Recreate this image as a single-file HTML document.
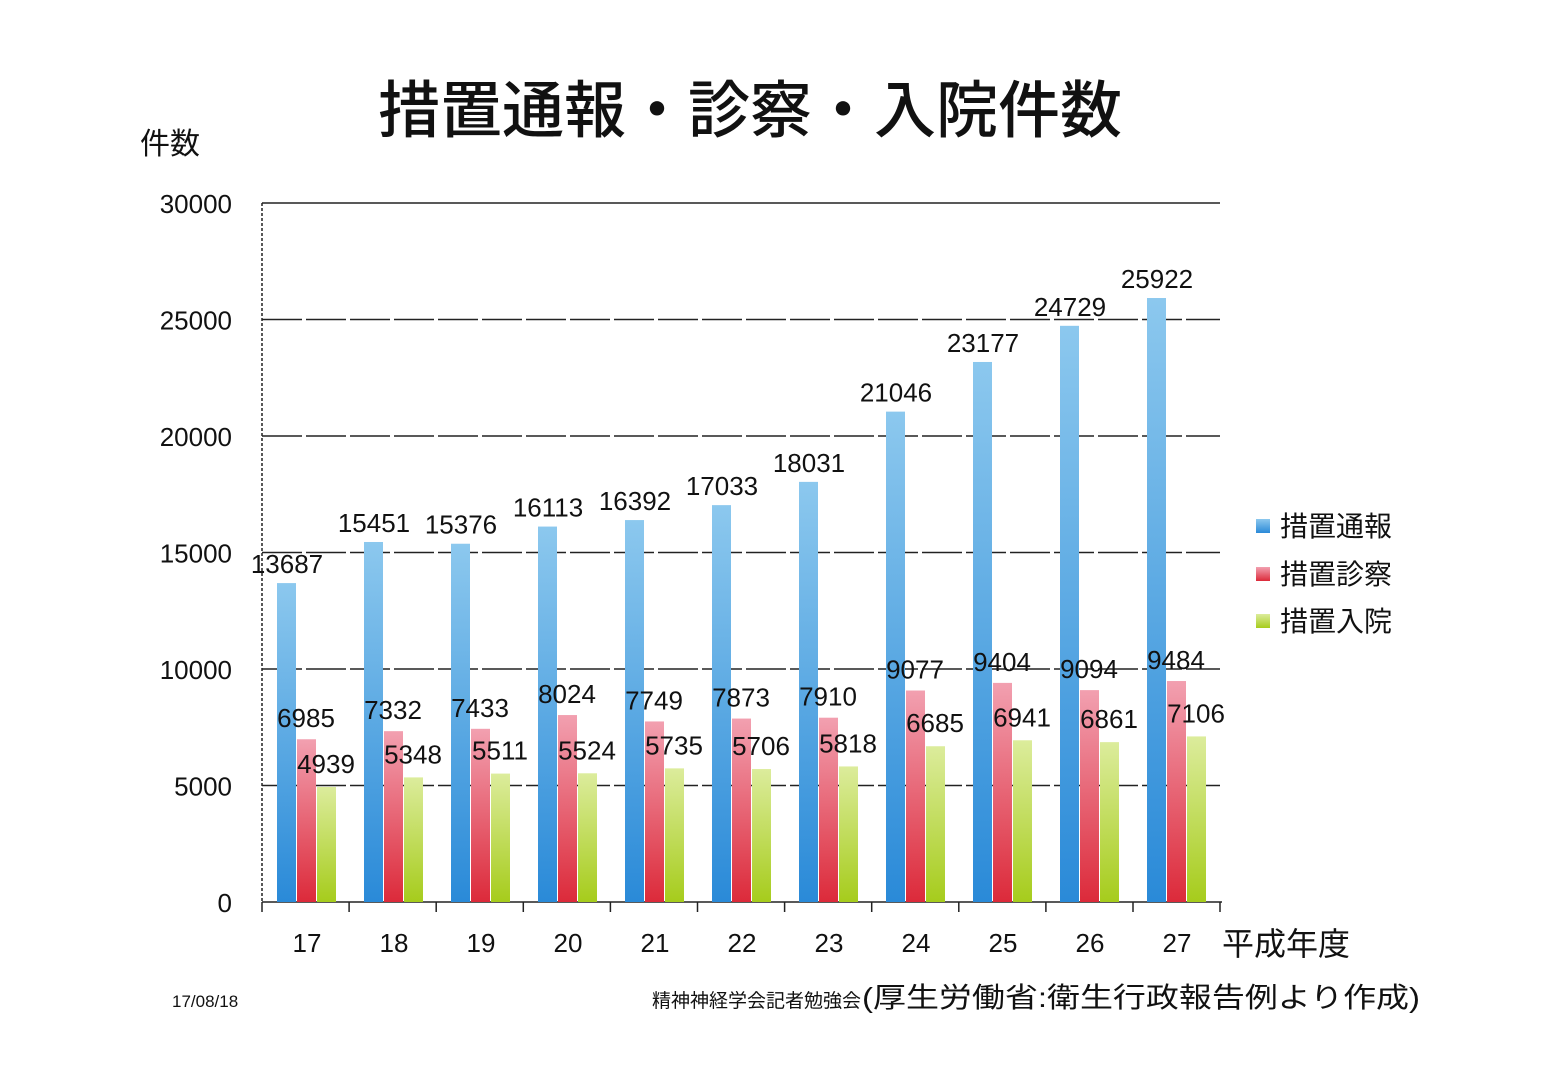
<!DOCTYPE html>
<html><head><meta charset="utf-8">
<style>
html,body{margin:0;padding:0;background:#fff;}
svg{display:block;}
text{font-family:"Liberation Sans","Noto Sans CJK JP",sans-serif;fill:#111;}
</style></head>
<body>
<svg id="c" width="1563" height="1084" viewBox="0 0 1563 1084" xmlns="http://www.w3.org/2000/svg">
<defs>
<linearGradient id="gb" x1="0" y1="0" x2="0" y2="1"><stop offset="0" stop-color="#8cc8ee"/><stop offset="1" stop-color="#2a8ad8"/></linearGradient>
<linearGradient id="gr" x1="0" y1="0" x2="0" y2="1"><stop offset="0" stop-color="#f2a0b0"/><stop offset="1" stop-color="#dc2a3a"/></linearGradient>
<linearGradient id="gg" x1="0" y1="0" x2="0" y2="1"><stop offset="0" stop-color="#dcec9c"/><stop offset="1" stop-color="#a6cc1c"/></linearGradient>
</defs>
<text x="750" y="132" font-size="62" text-anchor="middle" font-weight="500">措置通報・診察・入院件数</text>
<text x="140" y="154" font-size="30">件数</text>
<g id="grid"></g>
<g id="bars"></g>
<text x="1280" y="536" font-size="28">措置通報</text>
<text x="1280" y="584" font-size="28">措置診察</text>
<text x="1280" y="631" font-size="28">措置入院</text>
<rect x="1256" y="519" width="14" height="14" fill="url(#gb)"/>
<rect x="1256" y="567" width="14" height="14" fill="url(#gr)"/>
<rect x="1256" y="614" width="14" height="14" fill="url(#gg)"/>
<text x="1222" y="955" font-size="32">平成年度</text>
<text x="172" y="1007" font-size="17">17/08/18</text>
<text x="652" y="1007" font-size="19">精神神経学会記者勉強会</text>
<text x="862" y="1007" font-size="28" textLength="558" lengthAdjust="spacingAndGlyphs">(厚生労働省:衛生行政報告例より作成)</text>
</svg>
<script>
var ns="http://www.w3.org/2000/svg";
function el(p,t,a,txt){var e=document.createElementNS(ns,t);for(var k in a)e.setAttribute(k,a[k]);if(txt!=null)e.textContent=txt;p.appendChild(e);return e;}
var g=document.getElementById('grid'),b=document.getElementById('bars');
function Y(v){return 902-v*699/30000;}
for(var i=0;i<=6;i++){var v=i*5000,y=Y(v);
 if(i>0)el(g,'line',{x1:262,x2:1220,y1:y,y2:y,stroke:'#222','stroke-width':1.5,'stroke-dasharray':i==6?'':'40 4'});
 el(g,'text',{x:232,y:y+10,'font-size':26,'text-anchor':'end'},String(v));}
el(g,'line',{x1:262,x2:262,y1:203,y2:902,stroke:'#222','stroke-width':1.5,'stroke-dasharray':'3 2'});
el(g,'line',{x1:262,x2:1222,y1:902,y2:902,stroke:'#222','stroke-width':1.5});
var A=[13687,15451,15376,16113,16392,17033,18031,21046,23177,24729,25922];
var B=[6985,7332,7433,8024,7749,7873,7910,9077,9404,9094,9484];
var C=[4939,5348,5511,5524,5735,5706,5818,6685,6941,6861,7106];
for(var i=0;i<11;i++){
 var x0=277+i*87;
 el(g,'line',{x1:262+i*87.1,x2:262+i*87.1,y1:902,y2:912,stroke:'#222','stroke-width':1.5});
 el(g,'text',{x:x0+30,y:952,'font-size':26,'text-anchor':'middle'},String(17+i));
 [[A,'gb',0,10,10],[B,'gr',20,12,9],[C,'gg',40,14,9]].forEach(function(s){
  var v=s[0][i],y=Y(v);
  el(b,'rect',{x:x0+s[2],y:y,width:19,height:902-y,fill:'url(#'+s[1]+')'});
  el(b,'text',{x:x0+s[2]+s[4],y:y-s[3],'font-size':26,'text-anchor':'middle'},String(v));
 });
}
el(g,'line',{x1:1220,x2:1220,y1:902,y2:912,stroke:'#222','stroke-width':1.5});
</script>
</body></html>
